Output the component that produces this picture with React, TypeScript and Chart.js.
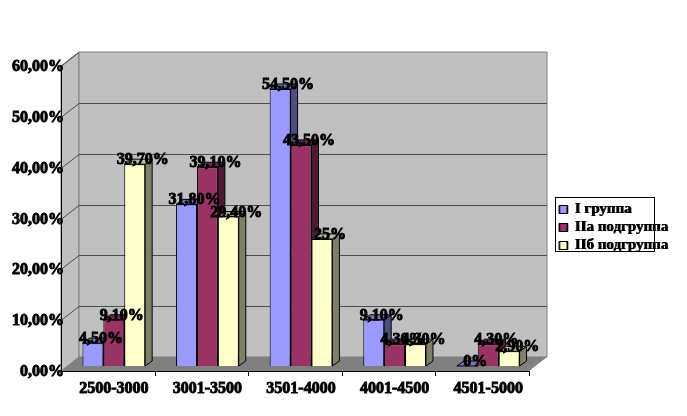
import React, { useEffect, useRef } from "react";
import { Chart, registerables } from "chart.js";

Chart.register(...registerables);

const categories = ["2500-3000", "3001-3500", "3501-4000", "4001-4500", "4501-5000"];
const group1 = [4.5, 31.8, 54.5, 9.1, 0];
const group2a = [9.1, 39.1, 43.5, 4.3, 4.3];
const group2b = [39.7, 29.4, 25, 4.3, 2.9];
const seriesNames = ["I группа", "IIа подгруппа", "IIб подгруппа"];
const yTicks = [0, 10, 20, 30, 40, 50, 60];

const fronts = ["#9999FF", "#993366", "#FFFFCC"];
const sides = ["#4D4D80", "#4D1A33", "#808066"];
const tops = ["#7373BF", "#732650", "#BFBF99"];
const FONT = "'Liberation Serif', 'Times New Roman', serif";
const DX = 18, DY = 14, BX = 7, BY = 5, SHIFT = 6, LIFT = 6, WALL = 1;

const fmt = (v: number, fixed: boolean) =>
  (fixed || !Number.isInteger(v) ? v.toFixed(2).replace(".", ",") : String(v)) + "%";

const poly = (ctx: any, pts: number[][], fill: string, stroke?: string) => {
  ctx.beginPath();
  pts.forEach((p, i) => (i ? ctx.lineTo(p[0], p[1]) : ctx.moveTo(p[0], p[1])));
  ctx.closePath();
  ctx.fillStyle = fill;
  ctx.fill();
  if (stroke) {
    ctx.strokeStyle = stroke;
    ctx.lineWidth = 1;
    ctx.stroke();
  }
};
const line = (ctx: any, x1: number, y1: number, x2: number, y2: number, c: string) => {
  ctx.beginPath();
  ctx.moveTo(x1, y1);
  ctx.lineTo(x2, y2);
  ctx.strokeStyle = c;
  ctx.lineWidth = 1;
  ctx.stroke();
};

const scene3d = {
  id: "scene3d",
  afterLayout(chart: any) {
    const l = chart.legend;
    const p = l.options.labels.padding;
    const w = l.right - l.left, h = l.bottom - l.top;
    l.left = 559 - p;
    l.right = l.left + w;
    l.top = 199;
    l.bottom = l.top + h;
    if (!l.__heavy) {
      l.__heavy = true;
      const base = l.draw;
      l.draw = function (...args: any[]) {
        const c = chart.ctx;
        c.save();
        c.shadowColor = "#000";
        c.shadowOffsetX = 0.8;
        c.shadowBlur = 0;
        base.apply(this, args);
        c.restore();
      };
    }
  },
  beforeDraw(chart: any) {
    const { ctx, scales: { x, y } } = chart;
    const L = x.left - SHIFT, R = x.right - SHIFT, B = y.bottom - WALL, T = y.top - WALL;
    ctx.save();
    poly(ctx, [[L, T], [L + DX, T - DY], [L + DX, B - DY], [L, B]], "#C0C0C0", "#808080");
    poly(ctx, [[L + DX, T - DY], [R + DX, T - DY], [R + DX, B - DY], [L + DX, B - DY]], "#C0C0C0", "#808080");
    poly(ctx, [[L, B], [L + DX, B - DY], [R + DX, B - DY], [R, B]], "#808080");
    yTicks.forEach((v) => {
      const py = Math.round(y.getPixelForValue(v) - WALL) + 0.5;
      if (v > 0 && v < 60) line(ctx, L + DX, py - DY, R + DX, py - DY, "#4D4D4D");
      if (v > 0) line(ctx, L, py, L + DX, py - DY, "#4D4D4D");
    });
    line(ctx, L + 0.5, T, L + 0.5, B, "#000");
    line(ctx, L, B + 0.5, R, B + 0.5, "#000");
    categories.forEach((_, i) => {
      const tx = Math.round(L + ((R - L) * (i + 1)) / categories.length) + 0.5;
      line(ctx, tx, B, tx, B + 5, "#000");
    });
    ctx.fillStyle = "#fff";
    ctx.fillRect(555.5, 197.5, 99, 54);
    ctx.strokeStyle = "#000";
    ctx.lineWidth = 1;
    ctx.strokeRect(555.5, 197.5, 99, 54);
    ctx.restore();
  },
  beforeDatasetsDraw(chart: any) {
    const { ctx } = chart;
    ctx.save();
    ctx.translate(0, -LIFT);
    chart.data.datasets.forEach((_: any, di: number) => {
      chart.getDatasetMeta(di).data.forEach((bar: any) => {
        const hw = bar.width / 2;
        const l = bar.x - hw, r = bar.x + hw, t = bar.y, b = bar.base;
        poly(ctx, [[r, t], [r + BX, t - BY], [r + BX, b - BY], [r, b]], sides[di], "#000");
        poly(ctx, [[l, t], [l + BX, t - BY], [r + BX, t - BY], [r, t]], tops[di], "#000");
      });
    });
  },
  afterDatasetsDraw(chart: any) {
    const { ctx } = chart;
    ctx.textAlign = "center";
    ctx.textBaseline = "middle";
    ctx.font = `bold 16px ${FONT}`;
    ctx.fillStyle = "#000";
    ctx.strokeStyle = "#000";
    ctx.lineWidth = 0.9;
    chart.data.datasets.forEach((ds: any, di: number) => {
      chart.getDatasetMeta(di).data.forEach((bar: any, i: number) => {
        const s = fmt(ds.data[i], false);
        ctx.fillText(s, bar.x + 8, bar.y - 4);
        ctx.strokeText(s, bar.x + 8, bar.y - 4);
      });
    });
    ctx.restore();
  },
};

export default function App() {
  const ref = useRef<HTMLCanvasElement>(null);
  useEffect(() => {
    document.body.style.margin = "0";
    const values = [group1, group2a, group2b];
    const chart = new Chart(ref.current as HTMLCanvasElement, {
      type: "bar",
      data: {
        labels: categories,
        datasets: seriesNames.map((label, i) => ({
          label,
          data: values[i],
          backgroundColor: fronts[i],
          borderColor: "#000",
          borderWidth: 1,
          categoryPercentage: 0.67,
          barPercentage: 1,
        })),
      },
      options: {
        responsive: false,
        animation: false,
        layout: { padding: { top: 67, right: 30, left: 0, bottom: 0 } },
        plugins: {
          tooltip: { enabled: false },
          legend: {
            position: "right",
            align: "start",
            labels: {
              boxWidth: 8,
              boxHeight: 8,
              padding: 3,
              color: "#000",
              font: { family: FONT, size: 15, weight: "bold" },
            },
          },
        },
        scales: {
          x: {
            grid: { display: false, drawTicks: false },
            border: { display: false },
            afterFit: (s: any) => { s.height = 44; },
            ticks: {
              padding: 7,
              maxRotation: 0,
              autoSkip: false,
              color: "#000",
              font: { family: FONT, size: 16, weight: "bold" },
              textStrokeColor: "#000",
              textStrokeWidth: 0.9,
            },
          },
          y: {
            min: 0,
            max: 60,
            grid: { display: false, drawTicks: false },
            border: { display: false },
            afterFit: (s: any) => { s.width = 67; },
            ticks: {
              stepSize: 10,
              padding: 3,
              color: "#000",
              font: { family: FONT, size: 16, weight: "bold" },
              textStrokeColor: "#000",
              textStrokeWidth: 0.9,
              callback: (v: any) => fmt(Number(v), true),
            },
          },
        },
      } as any,
      plugins: [scene3d],
    });
    return () => chart.destroy();
  }, []);
  return <canvas ref={ref} width={687} height={416} style={{ display: "block" }} />;
}
